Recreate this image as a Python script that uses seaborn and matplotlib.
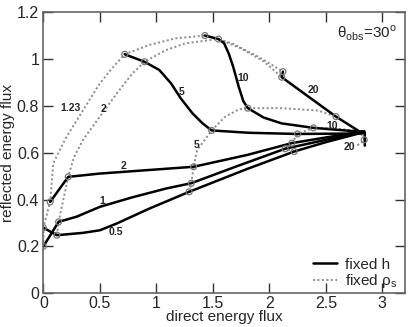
import numpy as np
import pandas as pd
import matplotlib
matplotlib.use('Agg')
import matplotlib.pyplot as plt
import seaborn as sns

# fixed h curves
h_labels = ['0.5', '1', '2', '5', '10', '20']
h05_x = [0.0, 0.12, 0.35, 0.5, 0.65, 0.94, 1.29, 1.8, 2.22, 2.5, 2.80, 2.845, 2.845]
h05_y = [0.28, 0.248, 0.258, 0.269, 0.298, 0.362, 0.433, 0.53, 0.605, 0.645, 0.683, 0.685, 0.63]
h1_x = [0.0, 0.135, 0.295, 0.5, 0.79, 1.085, 1.31, 1.7, 2.14, 2.5, 2.80, 2.84]
h1_y = [0.20, 0.305, 0.327, 0.369, 0.41, 0.447, 0.47, 0.54, 0.617, 0.655, 0.685, 0.685]
h2_x = [0.06, 0.22, 0.5, 0.9, 1.33, 1.8, 2.20, 2.5, 2.80, 2.84]
h2_y = [0.39, 0.497, 0.511, 0.525, 0.54, 0.59, 0.641, 0.665, 0.688, 0.69]
h5_x = [0.72, 0.895, 1.026, 1.13, 1.216, 1.32, 1.41, 1.49, 1.82, 2.25, 2.80, 2.84]
h5_y = [1.02, 0.988, 0.953, 0.896, 0.832, 0.768, 0.725, 0.695, 0.685, 0.68, 0.682, 0.685]
h10_x = [1.43, 1.55, 1.60, 1.64, 1.68, 1.73, 1.77, 1.81, 1.95, 2.11, 2.39, 2.80, 2.84]
h10_y = [1.10, 1.085, 1.067, 1.024, 0.967, 0.88, 0.82, 0.79, 0.75, 0.725, 0.706, 0.69, 0.69]
h20_x = [2.12, 2.11, 2.59, 2.80, 2.84]
h20_y = [0.946, 0.922, 0.754, 0.69, 0.69]

# fixed rho_s curves
rho_labels = ['1.23', '2', '5', '10', '20']
r123_x = [0.0, 0.0, 0.06, 0.088, 0.206, 0.35, 0.5, 0.62, 0.72, 0.94, 1.17, 1.43, 1.67, 1.90, 2.05, 2.12]
r123_y = [0.20, 0.28, 0.39, 0.556, 0.669, 0.78, 0.896, 0.967, 1.02, 1.06, 1.088, 1.10, 1.067, 1.01, 0.967, 0.946]
r2_x = [0.12, 0.135, 0.22, 0.27, 0.35, 0.5, 0.65, 0.79, 0.895, 1.085, 1.26, 1.55, 1.75, 1.95, 2.11]
r2_y = [0.248, 0.305, 0.497, 0.58, 0.654, 0.754, 0.853, 0.939, 0.988, 1.038, 1.067, 1.085, 1.045, 0.99, 0.922]
r5_x = [1.29, 1.31, 1.33, 1.36, 1.49, 1.61, 1.73, 1.81, 2.11, 2.43, 2.59]
r5_y = [0.433, 0.47, 0.54, 0.61, 0.695, 0.754, 0.785, 0.79, 0.79, 0.78, 0.754]
r10_x = [2.22, 2.14, 2.20, 2.25, 2.39, 2.55, 2.75]
r10_y = [0.605, 0.617, 0.641, 0.68, 0.706, 0.705, 0.695]
r20_x = [2.78, 2.82, 2.84, 2.83, 2.81, 2.80]
r20_y = [0.632, 0.645, 0.655, 0.67, 0.68, 0.69]

# circle markers at the grid nodes
node_x = [0.0, 0.0, 0.06, 0.72, 1.43, 2.12,
          0.12, 0.135, 0.22, 0.895, 1.55, 2.11,
          1.29, 1.31, 1.33, 1.49, 1.81, 2.59,
          2.22, 2.14, 2.20, 2.25, 2.39,
          2.84]
node_y = [0.28, 0.20, 0.39, 1.02, 1.10, 0.946,
          0.248, 0.305, 0.497, 0.988, 1.085, 0.922,
          0.433, 0.47, 0.54, 0.695, 0.79, 0.754,
          0.605, 0.617, 0.641, 0.68, 0.706,
          0.655]

sns.set_style('ticks')
plt.rcParams['font.family'] = ['Liberation Sans', 'DejaVu Sans']
plt.rcParams['mathtext.fontset'] = 'custom'
plt.rcParams['mathtext.rm'] = 'Liberation Sans'

fig = plt.figure(figsize=(4.09, 3.27), dpi=100)
ax = fig.add_axes([0.106, 0.103, 0.884, 0.860])

h_curves = [(h05_x, h05_y), (h1_x, h1_y), (h2_x, h2_y), (h5_x, h5_y), (h10_x, h10_y), (h20_x, h20_y)]
rho_curves = [(r123_x, r123_y), (r2_x, r2_y), (r5_x, r5_y), (r10_x, r10_y), (r20_x, r20_y)]

for i, (xs, ys) in enumerate(rho_curves):
    sns.lineplot(x=xs, y=ys, sort=False, estimator=None, ax=ax, color='#8a8a8a',
                 lw=1.4, linestyle=(0, (1, 1.3)),
                 label='fixed ρ$_{\\rm s}$' if i == 0 else None)
for i, (xs, ys) in enumerate(h_curves):
    sns.lineplot(x=xs, y=ys, sort=False, estimator=None, ax=ax, color='black',
                 lw=1.8, label='fixed h' if i == 0 else None)

sns.scatterplot(x=node_x, y=node_y, ax=ax, marker='o', s=18, facecolor='none',
                edgecolor='#777777', linewidth=0.9, zorder=5)

# curve labels
lab = dict(fontsize=7.5, fontweight='bold', ha='center', va='center')
for t, (x, y) in zip(h_labels, [(0.645, 0.262), (0.52, 0.395), (0.71, 0.543),
                                (1.22, 0.86), (1.77, 0.92), (2.39, 0.868)]):
    ax.text(x, y, t, **lab)
for t, (x, y) in zip(rho_labels, [(0.24, 0.79), (0.53, 0.785), (1.356, 0.632),
                                  (2.56, 0.715), (2.71, 0.625)]):
    ax.text(x, y, t, **lab)

ax.text(3.13, 1.11, 'θ$_{\\rm obs}$=30$^{\\rm o}$', fontsize=11, ha='right', va='center')

ax.set_xlim(0, 3.2)
ax.set_ylim(0, 1.2)
ax.set_xticks(np.arange(0, 3.01, 0.5))
ax.set_xticklabels(['0', '0.5', '1', '1.5', '2', '2.5', '3'])
ax.set_yticks(np.arange(0, 1.21, 0.2))
ax.set_yticklabels(['0', '0.2', '0.4', '0.6', '0.8', '1', '1.2'])
ax.tick_params(direction='in', length=7, width=1, top=True, right=True,
               labelsize=11.5, color='#333333')
ax.tick_params(axis='x', pad=2)
ax.tick_params(axis='y', pad=3)
for s in ax.spines.values():
    s.set_color('#666666')
    s.set_linewidth(1.2)
ax.set_xlabel('direct energy flux', fontsize=11, labelpad=-1)
ax.set_ylabel('reflected energy flux', fontsize=11, labelpad=1)

handles, labels = ax.get_legend_handles_labels()
order = [labels.index('fixed h'), labels.index('fixed ρ$_{\\rm s}$')]
ax.legend([handles[i] for i in order], [labels[i] for i in order], loc='lower right',
          frameon=False, fontsize=11, handlelength=1.6, handletextpad=0.5,
          labelspacing=0.02, borderaxespad=0.0, bbox_to_anchor=(0.995, -0.01))

fig.savefig('out.png', dpi=100)
